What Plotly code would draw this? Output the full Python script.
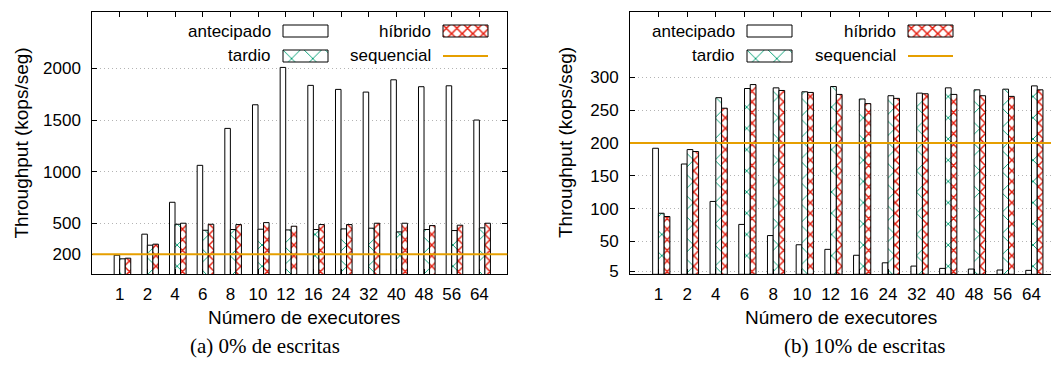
import numpy as np
import plotly.graph_objects as go

W, H = 1051, 371

# ---------------- data ----------------
EXECUTORES = ["1", "2", "4", "6", "8", "10", "12", "16", "24", "32", "40", "48", "56", "64"]

# (a) 0% de escritas
ANT_0 = [190, 394, 703, 1061, 1419, 1648, 2010, 1836, 1797, 1771, 1890, 1823, 1832, 1500]
TAR_0 = [155, 287, 490, 432, 439, 442, 435, 439, 445, 452, 416, 439, 429, 455]
HIB_0 = [161, 297, 500, 490, 487, 506, 471, 487, 487, 500, 500, 477, 481, 500]
SEQ_0 = 200
YTICKS_0 = [200, 500, 1000, 1500, 2000]

# (b) 10% de escritas
ANT_10 = [192, 168, 111, 76, 59, 45, 38, 29, 17.5, 12.5, 9, 8, 6.5, 6]
TAR_10 = [93, 190, 269, 283, 284, 278, 286, 267, 272, 276, 284, 281, 282, 287]
HIB_10 = [88, 187, 253, 289, 280, 277, 274, 260, 268, 275, 274, 272, 271, 281]
SEQ_10 = 200
YTICKS_10 = [5, 50, 100, 150, 200, 250, 300]

NAMES = ["antecipado", "tardio", "híbrido", "sequencial"]
CAPTIONS = ["(a) 0% de escritas", "(b) 10% de escritas"]
XTITLE = "Número de executores"
YTITLE = "Throughput (kops/seg)"

# ---------------- style ----------------
GREEN = "#009e73"
RED = "#e51e10"
ORANGE = "#e69f00"
FONT = "Liberation Sans"
SERIF = "Liberation Serif"


def px(x):
    return x / W


def py(y):
    return 1 - y / H


MARKERS = [
    dict(color="white", line=dict(color="black", width=1)),
    dict(color="white", line=dict(color="black", width=1),
         pattern=dict(shape="x", fgcolor=GREEN, bgcolor="white", size=15, solidity=0.12, fillmode="replace")),
    dict(color="white", line=dict(color="black", width=1),
         pattern=dict(shape="x", fgcolor=RED, bgcolor="white", size=7.5, solidity=0.36, fillmode="replace")),
]

idx = np.arange(len(EXECUTORES))

fig = go.Figure()

panels = [
    dict(series=[ANT_0, TAR_0, HIB_0], seq=SEQ_0, yticks=YTICKS_0, xa="x", ya="y",
         xdom=[px(92.3), px(507.3)], xr=[-1.09, 13.91], yr=[5, 2550], ymirror="ticks",
         bx0=283, bx1=443, xtc=304, ytx=21.5, capx=265),
    dict(series=[ANT_10, TAR_10, HIB_10], seq=SEQ_10, yticks=YTICKS_10, xa="x2", ya="y2",
         xdom=[px(630), 1.0], xr=[-1.09, 13.58], yr=[0, 400], ymirror=False,
         bx0=747, bx1=908, xtc=841, ytx=566, capx=865),
]

ydom = [py(274.3), py(11.7)]
layout = dict(
    width=W, height=H, autosize=False,
    margin=dict(l=0, r=0, t=0, b=0),
    paper_bgcolor="white", plot_bgcolor="rgba(0,0,0,0)",
    barmode="group", bargap=0.4, bargroupgap=0,
    showlegend=False,
    font=dict(family=FONT, size=17, color="black"),
    shapes=[], annotations=[],
)

key_axis_n = 3
ROW1, ROW2 = 25, 50
KW, KH = 45, 12

for pi, p in enumerate(panels):
    xa, ya = p["xa"], p["ya"]
    for vals, mk, nm in zip(p["series"], MARKERS, NAMES):
        fig.add_trace(go.Bar(x=idx, y=vals, name=nm, xaxis=xa, yaxis=ya, marker=mk,
                             showlegend=False, hoverinfo="skip"))
    xk = "xaxis" + xa[1:]
    yk = "yaxis" + ya[1:]
    layout[xk] = dict(domain=p["xdom"], range=p["xr"], anchor=ya,
                      tickmode="array", tickvals=idx - 0.1, ticktext=EXECUTORES,
                      ticks="inside", ticklen=5, tickcolor="black",
                      showline=True, linecolor="black", linewidth=1, mirror="ticks",
                      showgrid=False, zeroline=False, automargin=False,
                      ticklabelstandoff=4, tickfont=dict(size=17))
    layout[yk] = dict(domain=ydom, range=p["yr"], anchor=xa,
                      tickmode="array", tickvals=p["yticks"],
                      ticks="inside", ticklen=5, tickcolor="black",
                      showline=True, linecolor="black", linewidth=1, mirror=p["ymirror"],
                      showgrid=True, gridcolor="#b4b4b4", griddash="1px,3px", gridwidth=1,
                      zeroline=False, automargin=False,
                      ticklabelstandoff=7, tickfont=dict(size=17))
    # sequential reference line
    layout["shapes"].append(dict(type="line", xref=xa + " domain", yref=ya,
                                 x0=0, x1=1, y0=p["seq"], y1=p["seq"],
                                 line=dict(color=ORANGE, width=2), layer="above"))
    # titles
    layout["annotations"].append(dict(text=XTITLE, xref="paper", yref="paper",
                                      x=px(p["xtc"]), y=py(317), xanchor="center", yanchor="middle",
                                      showarrow=False, font=dict(size=19)))
    layout["annotations"].append(dict(text=YTITLE, xref="paper", yref="paper",
                                      x=px(p["ytx"]), y=py(143), xanchor="center", yanchor="middle",
                                      textangle=-90, showarrow=False, font=dict(size=19)))
    layout["annotations"].append(dict(text=CAPTIONS[pi], xref="paper", yref="paper",
                                      x=px(p["capx"]), y=py(346), xanchor="center", yanchor="middle",
                                      showarrow=False, font=dict(family=SERIF, size=21)))
    # manual legend (gnuplot style: text left of key)
    keys = [(p["bx0"], ROW1, 0), (p["bx0"], ROW2, 1), (p["bx1"], ROW1, 2)]
    for bx, top, k in keys:
        n = key_axis_n
        key_axis_n += 1
        pad = 2
        layout["xaxis%d" % n] = dict(domain=[px(bx - pad), px(bx + KW + pad)],
                                     range=[-pad / KW, 1 + pad / KW], visible=False,
                                     fixedrange=True, anchor="y%d" % n)
        layout["yaxis%d" % n] = dict(domain=[py(top + KH + pad), py(top - pad)],
                                     range=[-pad / KH, 1 + pad / KH], visible=False,
                                     fixedrange=True, anchor="x%d" % n)
        fig.add_trace(go.Bar(x=[0], y=[1], width=[1], offset=0, xaxis="x%d" % n, yaxis="y%d" % n,
                             marker=MARKERS[k], showlegend=False, hoverinfo="skip"))
        layout["annotations"].append(dict(text=NAMES[k], xref="paper", yref="paper",
                                          x=px(bx - 10), y=py(top + KH / 2), xanchor="right",
                                          yanchor="middle", showarrow=False, font=dict(size=17)))
    # sequencial key
    layout["shapes"].append(dict(type="line", xref="paper", yref="paper",
                                 x0=px(p["bx1"]), x1=px(p["bx1"] + KW),
                                 y0=py(ROW2 + KH / 2), y1=py(ROW2 + KH / 2),
                                 line=dict(color=ORANGE, width=2)))
    layout["annotations"].append(dict(text=NAMES[3], xref="paper", yref="paper",
                                      x=px(p["bx1"] - 10), y=py(ROW2 + KH / 2), xanchor="right",
                                      yanchor="middle", showarrow=False, font=dict(size=17)))

fig.update_layout(**layout)
fig.write_html("out.html", config={"displayModeBar": False},
               post_script="document.body.style.margin='0';document.body.style.overflow='hidden';")
